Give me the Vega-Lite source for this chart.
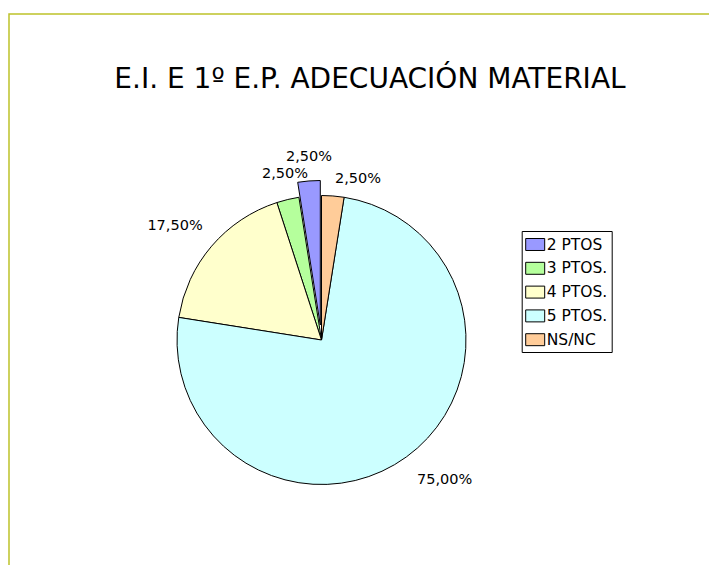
{
  "$schema": "https://vega.github.io/schema/vega-lite/v6.json",
  "autosize": "none",
  "width": 740,
  "height": 590,
  "padding": {"left": 9, "top": 14, "right": -40, "bottom": -39},
  "background": "white",
  "title": {
    "text": "E.I. E 1º E.P. ADECUACIÓN MATERIAL",
    "font": "DejaVu Sans",
    "fontSize": 28,
    "fontWeight": "normal",
    "color": "black",
    "anchor": "middle",
    "baseline": "alphabetic",
    "offset": 0,
    "dx": -9,
    "dy": 102
  },
  "config": {
    "locale": {"number": {"decimal": ",", "thousands": ".", "grouping": [3], "currency": ["", " €"]}},
    "view": {"stroke": "#BDC22A", "strokeWidth": 1.5}
  },
  "data": {
    "values": [
      {"cat": "2 PTOS", "v": 0.025},
      {"cat": "3 PTOS.", "v": 0.025},
      {"cat": "4 PTOS.", "v": 0.175},
      {"cat": "5 PTOS.", "v": 0.75},
      {"cat": "NS/NC", "v": 0.025}
    ]
  },
  "encoding": {
    "color": {
      "field": "cat",
      "type": "nominal",
      "scale": {
        "domain": ["2 PTOS", "3 PTOS.", "4 PTOS.", "5 PTOS.", "NS/NC"],
        "range": ["#9999FF", "#B5FF9C", "#FFFFCC", "#CCFFFF", "#FFCC99"]
      },
      "legend": {
        "orient": "none",
        "legendX": 512.7,
        "legendY": 217,
        "title": null,
        "padding": 3.5,
        "strokeColor": "black",
        "fillColor": "white",
        "symbolType": "M-1,-0.63H1V0.63H-1Z",
        "symbolSize": 361,
        "symbolStrokeColor": "black",
        "symbolStrokeWidth": 1,
        "symbolOpacity": 1,
        "labelFont": "DejaVu Sans",
        "labelFontSize": 15.5,
        "labelColor": "black",
        "labelOffset": 1.5,
        "rowPadding": 4.8
      }
    }
  },
  "layer": [
    {
      "mark": {"type": "arc", "x": 312.5, "y": 326, "radius": 144.5, "stroke": "black", "strokeWidth": 1},
      "encoding": {
        "theta": {"field": "v", "type": "quantitative", "stack": true},
        "order": {"field": "cat", "sort": "descending"},
        "opacity": {"condition": {"test": "datum.cat === '2 PTOS'", "value": 0}, "value": 1}
      }
    },
    {
      "mark": {"type": "arc", "x": 311.3, "y": 311, "radius": 144.5, "stroke": "black", "strokeWidth": 1},
      "encoding": {
        "theta": {"field": "v", "type": "quantitative", "stack": true},
        "order": {"field": "cat", "sort": "descending"},
        "opacity": {"condition": {"test": "datum.cat === '2 PTOS'", "value": 1}, "value": 0}
      }
    },
    {
      "mark": {
        "type": "text",
        "x": 312.5,
        "y": 326,
        "radius": 180,
        "font": "DejaVu Sans",
        "fontSize": 14.5,
        "align": "center",
        "baseline": "middle",
        "dx": {"expr": "datum.cat === '2 PTOS' ? 1.6 : datum.cat === '3 PTOS.' ? 5.5 : datum.cat === '4 PTOS.' ? -9.6 : datum.cat === '5 PTOS.' ? 17.4 : 22.4"},
        "dy": {"expr": "datum.cat === '2 PTOS' ? -3.6 : datum.cat === '3 PTOS.' ? 9 : datum.cat === '4 PTOS.' ? 2.9 : datum.cat === '5 PTOS.' ? -5.6 : 18.4"}
      },
      "encoding": {
        "theta": {"field": "v", "type": "quantitative", "stack": true},
        "order": {"field": "cat", "sort": "descending"},
        "text": {"field": "v", "type": "quantitative", "format": ".2%"},
        "color": {"value": "black"}
      }
    },
    {
      "mark": {"type": "point", "filled": false},
      "encoding": {
        "x": {"field": "v", "type": "quantitative", "axis": null},
        "y": {"field": "v", "type": "quantitative", "axis": null},
        "color": {"value": "transparent"}
      }
    }
  ]
}
